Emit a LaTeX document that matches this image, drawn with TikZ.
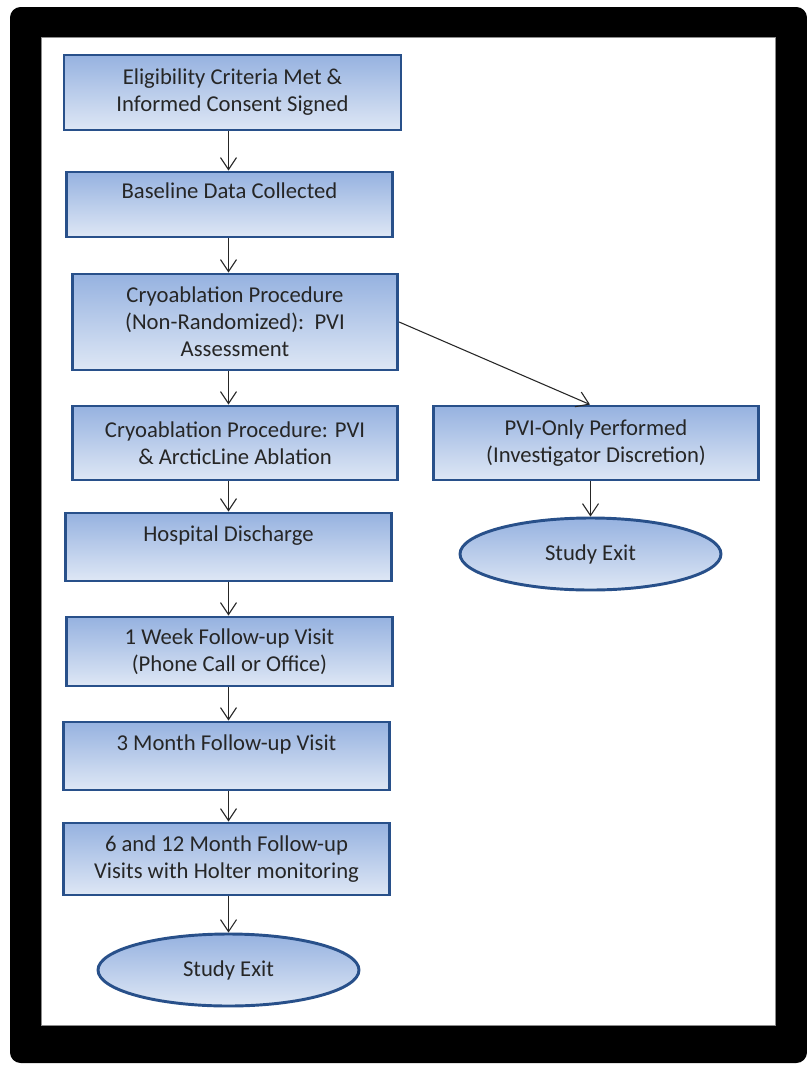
\documentclass[tikz,border=0pt]{standalone}
\usepackage{fontspec}
\setmainfont{Carlito}
\usetikzlibrary{shapes,shapes.geometric,arrows.meta,calc}
\definecolor{boxline}{RGB}{40,80,138}
\definecolor{boxtop}{RGB}{150,178,224}
\definecolor{boxbot}{RGB}{222,231,245}
\definecolor{txtgray}{RGB}{38,38,38}
\tikzset{
  flownode/.style = {align=center, inner sep=0pt, text centered, text=txtgray,
    font=\fontsize{17}{20.25}\selectfont, draw=boxline, line width=2.2pt,
    top color=boxtop, bottom color=boxbot},
  fl_box/.style = {flownode, rectangle, minimum width=244pt},
  fl_end/.style = {flownode, ellipse, minimum width=195.75pt, minimum height=54pt},
  fl_arr/.style = {-{Straight Barb[length=9pt,width=12pt]}, line width=0.8pt, draw=black!85}
}

\begin{document}
\begin{tikzpicture}[x=0.75pt,y=-0.75pt]
	\useasboundingbox (0,0) rectangle (807,1065);
	% frame
	\fill[black, rounded corners=8pt] (10,7) rectangle (807,1063);
	\filldraw[white, draw=black!45, line width=0.6pt] (41,37) rectangle (775,1025);

	% main column
	\node [fl_box, minimum width=252.75pt, minimum height=56.25pt] (elig) at (232.5,92.5)
		{Eligibility Criteria Met \&\\Informed Consent Signed};
	\node [fl_box, minimum height=48.75pt] (base) at (229.5,204.5)
		{Baseline Data Collected\\\mbox{}};
	\node [fl_box, minimum height=72pt] (cryo) at (235,322)
		{Cryoablation Procedure\\(Non-Randomized):\ \ PVI\\Assessment};
	\node [fl_box, minimum height=55.5pt] (arctic) at (235,443)
		{Cryoablation Procedure: PVI\\\& ArcticLine Ablation};
	\node [fl_box, minimum height=51pt] (disch) at (228.5,547)
		{Hospital Discharge\\\mbox{}};
	\node [fl_box, minimum height=51.75pt] (week) at (229.5,651.5)
		{1 Week Follow-up Visit\\(Phone Call or Office)};
	\node [fl_box, minimum height=51pt] (three) at (226.5,756)
		{3 Month Follow-up Visit\\\mbox{}};
	\node [fl_box, minimum height=54pt] (six) at (226.5,859)
		{6 and 12 Month Follow-up\\Visits with Holter monitoring};
	\node [fl_end] (exitL) at (228.5,970) {Study Exit};

	% side branch
	\node [fl_box, minimum height=55.5pt] (pvi) at (596,443)
		{PVI-Only Performed\\(Investigator Discretion)};
	\node [fl_end] (exitR) at (590.5,554) {Study Exit};

	% connectors, all on one line down the left column
	\draw [fl_arr] (elig.south -| exitL) -- (base.north -| exitL);
	\draw [fl_arr] (base.south -| exitL) -- (cryo.north -| exitL);
	\draw [fl_arr] (cryo.south -| exitL) -- (arctic.north -| exitL);
	\draw [fl_arr] (arctic.south -| exitL) -- (disch.north -| exitL);
	\draw [fl_arr] (disch.south -| exitL) -- (week.north -| exitL);
	\draw [fl_arr] (week.south -| exitL) -- (three.north -| exitL);
	\draw [fl_arr] (three.south -| exitL) -- (six.north -| exitL);
	\draw [fl_arr] (six.south -| exitL) -- (exitL.north);
	\draw [fl_arr] (cryo.east) -- ($(pvi.north)+(-6,0)$);
	\draw [fl_arr] (pvi.south -| exitR) -- (exitR.north);
\end{tikzpicture}
\end{document}
